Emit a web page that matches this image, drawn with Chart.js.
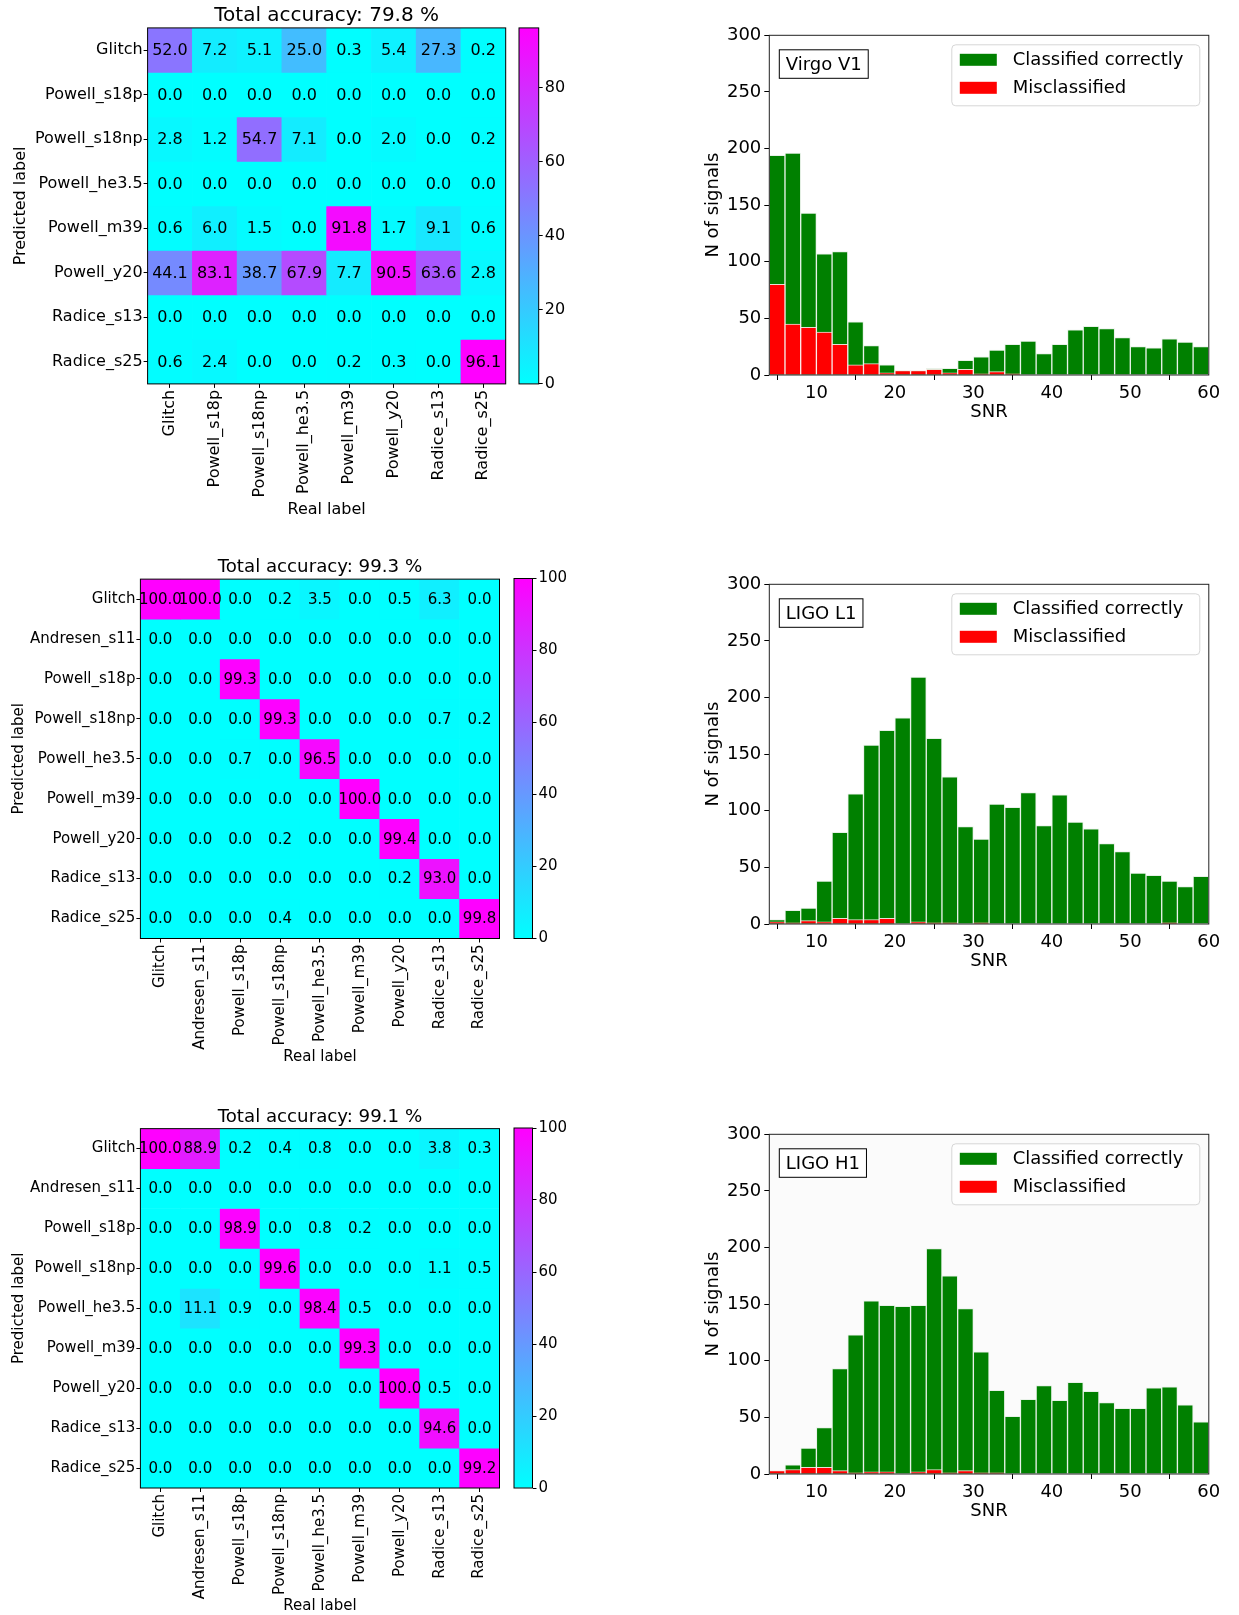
<!DOCTYPE html>
<html>
<head>
<meta charset="utf-8">
<script src="https://cdn.jsdelivr.net/npm/chart.js@4.4.1/dist/chart.umd.min.js"></script>
<style>
  body { margin: 0; background: #fff; width: 1239px; height: 1615px; position: relative; overflow: hidden; }
  .panel { position: absolute; }
</style>
</head>
<body>
<div class="panel" style="left:0px;top:0px;width:510px;height:523px"><canvas id="cm1"></canvas></div>
<div class="panel" style="left:510px;top:0px;width:70px;height:400px"><canvas id="cb1"></canvas></div>
<div class="panel" style="left:0px;top:540px;width:505px;height:529px"><canvas id="cm2"></canvas></div>
<div class="panel" style="left:505px;top:540px;width:70px;height:420px"><canvas id="cb2"></canvas></div>
<div class="panel" style="left:0px;top:1090px;width:505px;height:525px"><canvas id="cm3"></canvas></div>
<div class="panel" style="left:505px;top:1090px;width:70px;height:420px"><canvas id="cb3"></canvas></div>
<div class="panel" style="left:680px;top:0px;width:559px;height:427px"><canvas id="h1"></canvas></div>
<div class="panel" style="left:680px;top:549px;width:559px;height:427px"><canvas id="h2"></canvas></div>
<div class="panel" style="left:680px;top:1099px;width:559px;height:427px"><canvas id="h3"></canvas></div>
<script>
// ---- confusion matrix data (rows = predicted, columns = real) ----
const labels8 = ["Glitch", "Powell_s18p", "Powell_s18np", "Powell_he3.5", "Powell_m39", "Powell_y20", "Radice_s13", "Radice_s25"];
const labels9 = ["Glitch", "Andresen_s11", "Powell_s18p", "Powell_s18np", "Powell_he3.5", "Powell_m39", "Powell_y20", "Radice_s13", "Radice_s25"];

const virgoMatrix = [
  [52.0, 7.2, 5.1, 25.0, 0.3, 5.4, 27.3, 0.2],
  [0.0, 0.0, 0.0, 0.0, 0.0, 0.0, 0.0, 0.0],
  [2.8, 1.2, 54.7, 7.1, 0.0, 2.0, 0.0, 0.2],
  [0.0, 0.0, 0.0, 0.0, 0.0, 0.0, 0.0, 0.0],
  [0.6, 6.0, 1.5, 0.0, 91.8, 1.7, 9.1, 0.6],
  [44.1, 83.1, 38.7, 67.9, 7.7, 90.5, 63.6, 2.8],
  [0.0, 0.0, 0.0, 0.0, 0.0, 0.0, 0.0, 0.0],
  [0.6, 2.4, 0.0, 0.0, 0.2, 0.3, 0.0, 96.1]
];
const livingstonMatrix = [
  [100.0, 100.0, 0.0, 0.2, 3.5, 0.0, 0.5, 6.3, 0.0],
  [0.0, 0.0, 0.0, 0.0, 0.0, 0.0, 0.0, 0.0, 0.0],
  [0.0, 0.0, 99.3, 0.0, 0.0, 0.0, 0.0, 0.0, 0.0],
  [0.0, 0.0, 0.0, 99.3, 0.0, 0.0, 0.0, 0.7, 0.2],
  [0.0, 0.0, 0.7, 0.0, 96.5, 0.0, 0.0, 0.0, 0.0],
  [0.0, 0.0, 0.0, 0.0, 0.0, 100.0, 0.0, 0.0, 0.0],
  [0.0, 0.0, 0.0, 0.2, 0.0, 0.0, 99.4, 0.0, 0.0],
  [0.0, 0.0, 0.0, 0.0, 0.0, 0.0, 0.2, 93.0, 0.0],
  [0.0, 0.0, 0.0, 0.4, 0.0, 0.0, 0.0, 0.0, 99.8]
];
const hanfordMatrix = [
  [100.0, 88.9, 0.2, 0.4, 0.8, 0.0, 0.0, 3.8, 0.3],
  [0.0, 0.0, 0.0, 0.0, 0.0, 0.0, 0.0, 0.0, 0.0],
  [0.0, 0.0, 98.9, 0.0, 0.8, 0.2, 0.0, 0.0, 0.0],
  [0.0, 0.0, 0.0, 99.6, 0.0, 0.0, 0.0, 1.1, 0.5],
  [0.0, 11.1, 0.9, 0.0, 98.4, 0.5, 0.0, 0.0, 0.0],
  [0.0, 0.0, 0.0, 0.0, 0.0, 99.3, 0.0, 0.0, 0.0],
  [0.0, 0.0, 0.0, 0.0, 0.0, 0.0, 100.0, 0.5, 0.0],
  [0.0, 0.0, 0.0, 0.0, 0.0, 0.0, 0.0, 94.6, 0.0],
  [0.0, 0.0, 0.0, 0.0, 0.0, 0.0, 0.0, 0.0, 99.2]
];
const colorbarTicks1 = [0, 20, 40, 60, 80];
const colorbarTicks2 = [0, 20, 40, 60, 80, 100];

// ---- SNR histograms (bins of width 2 from 4 to 60) ----
const snrBins = [5, 7, 9, 11, 13, 15, 17, 19, 21, 23, 25, 27, 29, 31, 33, 35, 37, 39, 41, 43, 45, 47, 49, 51, 53, 55, 57, 59];
const snrTicks = [10, 20, 30, 40, 50, 60];
const countTicks = [0, 50, 100, 150, 200, 250, 300];

const virgoTotal = [194, 196, 143, 107, 109, 47, 26, 9, 4, 4, 6, 6, 13, 16, 22, 27, 30, 19, 27, 40, 43, 41, 33, 25, 24, 32, 29, 25];
const virgoMiss  = [80, 45, 42, 38, 27, 9, 10, 2, 4, 4, 5, 2, 5, 1, 3, 1, 0, 0, 0, 0, 0, 0, 0, 0, 0, 0, 0, 0];
const livTotal   = [4, 12, 14, 38, 81, 115, 158, 171, 182, 218, 164, 130, 86, 75, 106, 103, 116, 87, 114, 90, 84, 71, 64, 45, 43, 38, 33, 42];
const livMiss    = [2, 1, 3, 2, 5, 4, 4, 5, 0, 2, 1, 1, 0, 1, 0, 0, 0, 0, 0, 0, 0, 0, 0, 0, 0, 1, 0, 0];
const hanTotal   = [3, 8, 23, 41, 93, 123, 153, 149, 148, 149, 199, 175, 146, 108, 74, 51, 66, 78, 65, 81, 73, 63, 58, 58, 76, 77, 61, 46];
const hanMiss    = [3, 4, 6, 6, 3, 1, 2, 2, 0, 2, 4, 1, 3, 1, 1, 0, 0, 0, 0, 0, 0, 0, 0, 0, 0, 0, 0, 0];

Chart.defaults.font.family = "'DejaVu Sans', sans-serif";
Chart.defaults.color = "#000";
Chart.defaults.animation = false;
Chart.defaults.plugins.legend.display = false;
Chart.defaults.plugins.tooltip.enabled = false;

// matplotlib "cool" colormap
function cool(v, vmax) {
  const t = Math.max(0, Math.min(1, v / vmax));
  return "rgb(" + Math.round(255 * t) + "," + Math.round(255 * (1 - t)) + ",255)";
}

// draws the numbers into the cells
const cellText = {
  id: "cellText",
  afterDatasetsDraw(chart, args, opts) {
    const ctx = chart.ctx;
    ctx.save();
    ctx.font = opts.size + "px 'DejaVu Sans'";
    ctx.fillStyle = "#000";
    ctx.textAlign = "center";
    ctx.textBaseline = "middle";
    chart.data.datasets.forEach((ds, r) => {
      chart.getDatasetMeta(r).data.forEach((bar, c) => {
        const p = bar.getCenterPoint();
        ctx.fillText(opts.values[r][c].toFixed(1), p.x, p.y + 1);
      });
    });
    ctx.restore();
  }
};

// frame round the plot area, optional background
const frame = {
  id: "frame",
  beforeDraw(chart, args, opts) {
    if (!opts.background) return;
    const a = chart.chartArea;
    chart.ctx.save();
    chart.ctx.fillStyle = opts.background;
    chart.ctx.fillRect(a.left, a.top, a.width, a.height);
    chart.ctx.restore();
  },
  afterDraw(chart, args, opts) {
    const a = chart.chartArea, ctx = chart.ctx;
    ctx.save();
    ctx.strokeStyle = opts.color || "#000";
    ctx.lineWidth = 1;
    ctx.strokeRect(a.left, a.top, a.width, a.height);
    ctx.restore();
  }
};

// text box in the top left corner and legend box in the top right corner
const insets = {
  id: "insets",
  afterDraw(chart, args, opts) {
    const a = chart.chartArea, ctx = chart.ctx;
    ctx.save();
    ctx.font = "18px 'DejaVu Sans'";
    ctx.textBaseline = "middle";
    // detector name
    const tw = ctx.measureText(opts.name).width;
    const bx = a.left + 10, by = a.top + 14.5, bw = tw + 13, bh = 28.5;
    ctx.fillStyle = "#fff";
    ctx.fillRect(bx, by, bw, bh);
    ctx.strokeStyle = "#000";
    ctx.lineWidth = 1;
    ctx.strokeRect(bx, by, bw, bh);
    ctx.fillStyle = "#000";
    ctx.textAlign = "left";
    ctx.fillText(opts.name, bx + 6.5, by + bh / 2 + 1);
    // legend
    const lw = 248, lh = 61;
    const lx = a.right - 9 - lw, ly = a.top + 9.5;
    ctx.beginPath();
    if (ctx.roundRect) ctx.roundRect(lx, ly, lw, lh, 4); else ctx.rect(lx, ly, lw, lh);
    ctx.fillStyle = "rgba(255,255,255,0.8)";
    ctx.fill();
    ctx.strokeStyle = "#d6d6d6";
    ctx.stroke();
    chart.data.datasets.forEach((ds, i) => {
      const cy = ly + 15 + i * 28;
      ctx.fillStyle = ds.backgroundColor;
      ctx.fillRect(lx + 8, cy - 6, 37, 12);
      ctx.fillStyle = "#000";
      ctx.fillText(ds.label, lx + 61, cy + 1);
    });
    ctx.restore();
  }
};

function makeMatrix(id, title, names, values, vmax, g) {
  const n = names.length;
  new Chart(document.getElementById(id), {
    type: "bar",
    data: {
      labels: names,
      datasets: values.map((row, r) => ({
        data: row.map(() => [r, r + 1]),
        backgroundColor: row.map(v => cool(v, vmax)),
        borderWidth: 0,
        grouped: false,
        barPercentage: 1,
        categoryPercentage: 1
      }))
    },
    options: {
      responsive: true,
      maintainAspectRatio: false,
      layout: { padding: { left: g.padLeft, right: g.padRight, top: 0, bottom: 0 } },
      plugins: {
        title: {
          display: true, text: title, fullSize: false, color: "#000",
          font: { size: g.titleSize, weight: "normal" },
          padding: { top: g.titleTop, bottom: 0.5 }
        },
        cellText: { values: values, size: g.font },
        frame: { color: "#000" }
      },
      scales: {
        x: {
          type: "category",
          offset: true,
          grid: { display: true, offset: false, drawOnChartArea: false, tickLength: 4, color: "#000" },
          border: { display: false },
          ticks: { autoSkip: false, maxRotation: 90, minRotation: 90, padding: 2, font: { size: g.font } },
          title: { display: true, text: "Real label", font: { size: g.font }, padding: { top: 2, bottom: g.realPad } },
          afterFit: s => { s.height = g.xAxisH; }
        },
        y: {
          type: "linear",
          min: 0, max: n, reverse: true,
          grid: { display: true, drawOnChartArea: false, tickLength: 4, color: "#000" },
          border: { display: false },
          afterBuildTicks: s => { s.ticks = names.map((_, i) => ({ value: i + 0.5 })); },
          ticks: { autoSkip: false, padding: 1, font: { size: g.font }, callback: (v, i) => names[i] },
          title: { display: true, text: "Predicted label", font: { size: g.font }, padding: { top: 4, bottom: 2 } },
          afterFit: s => { s.width = g.yAxisW; }
        }
      }
    },
    plugins: [cellText, frame]
  });
}

function makeColorbar(id, vmax, ticks, g) {
  new Chart(document.getElementById(id), {
    type: "bar",
    data: {
      labels: ["cb"],
      datasets: [{
        data: [[0, vmax]],
        borderWidth: 0,
        barPercentage: 1,
        categoryPercentage: 1,
        backgroundColor: ctx => {
          const a = ctx.chart.chartArea;
          if (!a) return "cyan";
          const grad = ctx.chart.ctx.createLinearGradient(0, a.bottom, 0, a.top);
          grad.addColorStop(0, "rgb(0,255,255)");
          grad.addColorStop(1, "rgb(255,0,255)");
          return grad;
        }
      }]
    },
    options: {
      responsive: true,
      maintainAspectRatio: false,
      layout: { padding: { left: g.padLeft, right: 0, top: g.padTop, bottom: g.padBottom } },
      plugins: { frame: { color: "#000" } },
      scales: {
        x: { display: false },
        y: {
          position: "right", min: 0, max: vmax,
          grid: { display: true, drawOnChartArea: false, tickLength: 4, color: "#000" },
          border: { display: false },
          afterBuildTicks: s => { s.ticks = ticks.map(v => ({ value: v })); },
          ticks: { padding: 2, font: { size: g.font } },
          afterFit: s => { s.width = g.axisW; }
        }
      }
    },
    plugins: [frame]
  });
}

function makeHist(id, name, total, miss, background) {
  new Chart(document.getElementById(id), {
    type: "bar",
    data: {
      labels: snrBins,
      datasets: [
        { label: "Classified correctly", data: total, backgroundColor: "#008000",
          borderColor: "rgba(230,240,230,0.9)", borderWidth: 1, grouped: false, order: 2,
          barPercentage: 1, categoryPercentage: 1 },
        { label: "Misclassified", data: miss, backgroundColor: "#ff0000",
          borderColor: "rgba(255,235,235,0.9)", borderWidth: 1, grouped: false, order: 1,
          barPercentage: 1, categoryPercentage: 1 }
      ]
    },
    options: {
      responsive: true,
      maintainAspectRatio: false,
      layout: { padding: { left: 19, right: 30.2, top: 35.3, bottom: 0 } },
      plugins: {
        frame: { color: "#222", background: background },
        insets: { name: name }
      },
      scales: {
        x: {
          type: "linear", min: 4, max: 60, offset: false,
          grid: { display: true, drawOnChartArea: false, tickLength: 5, color: "#000" },
          border: { display: false },
          afterBuildTicks: s => { s.ticks = snrTicks.map(v => ({ value: v })); },
          ticks: { padding: 3, font: { size: 18 } },
          title: { display: true, text: "SNR", font: { size: 18 }, padding: { top: 0, bottom: 4 } },
          afterFit: s => { s.height = 52; }
        },
        y: {
          min: 0, max: 300,
          grid: { display: true, drawOnChartArea: false, tickLength: 5, color: "#000" },
          border: { display: false },
          afterBuildTicks: s => { s.ticks = countTicks.map(v => ({ value: v })); },
          ticks: { padding: 3, font: { size: 18 } },
          title: { display: true, text: "N of signals", font: { size: 18 }, padding: { top: 4, bottom: 4 } },
          afterFit: s => { s.width = 70.3; }
        }
      }
    },
    plugins: [frame, insets]
  });
}

makeMatrix("cm1", "Total accuracy: 79.8 %", labels8, virgoMatrix, 96.1,
  { padLeft: 7.5, padRight: 4.3, titleSize: 20, titleTop: 3.4, font: 16, xAxisH: 139.1, yAxisW: 140.1, realPad: 4 });
makeColorbar("cb1", 96.1, colorbarTicks1, { padLeft: 9, padTop: 27.9, padBottom: 16.1, axisW: 41.3, font: 16 });

makeMatrix("cm2", "Total accuracy: 99.3 %", labels9, livingstonMatrix, 100,
  { padLeft: 6.4, padRight: 5.5, titleSize: 18.2, titleTop: 16.8, font: 15, xAxisH: 130.5, yAxisW: 134, realPad: 3.3 });
makeColorbar("cb2", 100, colorbarTicks2, { padLeft: 9, padTop: 38.5, padBottom: 21.5, axisW: 42.5, font: 15 });

makeMatrix("cm3", "Total accuracy: 99.1 %", labels9, hanfordMatrix, 100,
  { padLeft: 6.4, padRight: 5.5, titleSize: 18.2, titleTop: 16.3, font: 15, xAxisH: 127, yAxisW: 134, realPad: 0 });
makeColorbar("cb3", 100, colorbarTicks2, { padLeft: 9, padTop: 38, padBottom: 22, axisW: 42.5, font: 15 });

makeHist("h1", "Virgo V1", virgoTotal, virgoMiss, null);
makeHist("h2", "LIGO L1", livTotal, livMiss, null);
makeHist("h3", "LIGO H1", hanTotal, hanMiss, "#fbfbfb");
</script>
</body>
</html>
